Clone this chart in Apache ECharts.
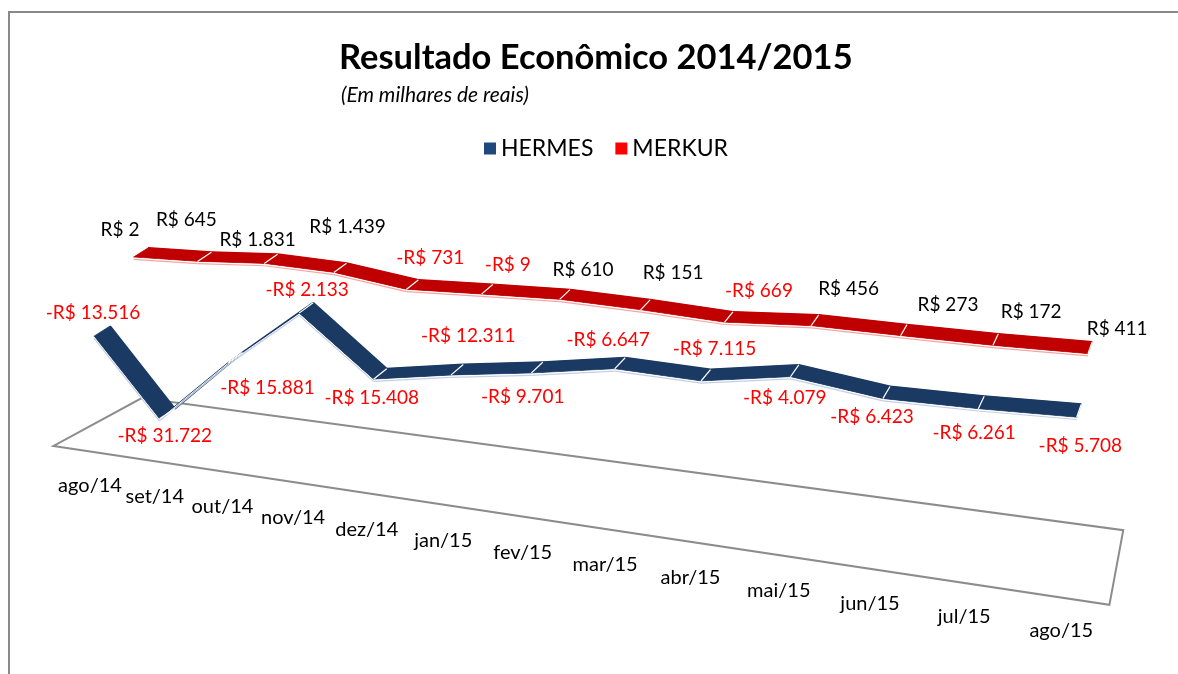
<!DOCTYPE html>
<html>
<head>
<meta charset="utf-8">
<script src="https://cdn.jsdelivr.net/npm/echarts@6/dist/echarts.min.js"></script>
<style>
html,body{margin:0;padding:0;background:#ffffff;}
#chart{width:1178px;height:674px;}
</style>
</head>
<body>
<div id="chart"></div>
<script>
// ---------- data ----------
const categories = ['ago/14','set/14','out/14','nov/14','dez/14','jan/15','fev/15','mar/15','abr/15','mai/15','jun/15','jul/15','ago/15'];
const hermes = [-13516,-31722,-15881,-2133,-15408,-12311,-9701,-6647,-7115,-4079,-6423,-6261,-5708];
const merkur = [2,645,1831,1439,-731,-9,610,151,-669,456,273,172,411];
const seriesNames = ['HERMES','MERKUR'];

// label nudges (relative to each point, in px)
const hermesLabelOffset = [[-17,-13],[-10,27],[25,35],[-6,-13],[-15,29],[5,-29],[-20,35],[-17,-18],[4,-21],[-14,33],[-18,30],[-10,37],[-1,42]];
const merkurLabelOffset = [[-28,-18],[-25,-32],[-20,-14],[1,-36],[12,-22],[15,-20],[13,-20],[23,-27],[26,-21],[30,-26],[41,-20],[33,-22],[25,-13]];

const FONT = 'Lato, "Open Sans", "Noto Sans", sans-serif';
const FLOOR_VALUE = -38000;

function fmt(v){
  const s = Math.abs(v).toString().replace(/\B(?=(\d{3})+(?!\d))/g, '.');
  return (v < 0 ? '-' : '') + 'R$ ' + s;
}

// perspective warp of the flat cartesian coordinates (3D-look)
function makeProj(api){
  const o = api.coord([0, 0]);
  const step = api.coord([1, 0])[0] - o[0];
  const proj = function(px, py, z){
    const t = (px - o[0]) / step, dv = py - o[1];
    return [
      o[0] + 63.3 * t + 1.47 * t * t + z * (38 - 1.3 * t - 0.08 * t * t),
      o[1] + 6.8 * t + 0.15 * t * t + z * (-24 - 0.05 * t * t) + dv * (1 + 0.0225 * t)
    ];
  };
  proj.origin = o; proj.step = step;
  return proj;
}

function ribbonRenderer(values, zRow, depth, fill, edge, labelOffsets){
  return function(params, api){
    const i = params.dataIndex;
    const proj = makeProj(api);
    const pt = function(k, z){ const c = api.coord([k, values[k]]); return proj(c[0], c[1], z); };
    const children = [];
    const a = pt(i, zRow), af = pt(i, zRow - depth);
    if (i < values.length - 1){
      const b = pt(i + 1, zRow), bf = pt(i + 1, zRow - depth);
      children.push({type:'polygon', shape:{points:[a, b, bf, af]},
        style:{fill: fill, stroke: fill, lineWidth: 0.8}});
      children.push({type:'polyline', shape:{points:[a, b]},
        style:{stroke: fill, lineWidth: 2, fill: null}});
      children.push({type:'polyline', shape:{points:[[af[0], af[1] + 1], [bf[0], bf[1] + 1]]},
        style:{stroke: '#ffffff', lineWidth: 1, fill: null}});
      children.push({type:'polyline', shape:{points:[[af[0], af[1] + 2.2], [bf[0], bf[1] + 2.2]]},
        style:{stroke: edge, lineWidth: 1.2, fill: null}});
    }
    if (i > 0){
      children.push({type:'polyline', z2: 10, shape:{points:[a, af]},
        style:{stroke: '#ffffff', lineWidth: 1.2, fill: null}});
    }
    const v = api.value(1);
    const off = labelOffsets[i];
    children.push({type:'text', z2: 50, x: a[0] + off[0], y: a[1] + off[1],
      style:{text: fmt(v), fill: v < 0 ? '#ff0000' : '#000000', font: '19px ' + FONT,
        align:'center', verticalAlign:'middle', textAlign:'center', textVerticalAlign:'middle'}});
    return {type:'group', children: children};
  };
}

function floorRenderer(params, api){
  const i = params.dataIndex;
  const proj = makeProj(api);
  const o = proj.origin, step = proj.step;
  const fy = api.coord([0, FLOOR_VALUE])[1];
  const children = [];
  if (i === 0){
    const corners = [[-0.27,-1.03],[12.38,-0.99],[12.29,1.335],[-0.12,1.03]];
    const pts = corners.map(function(c){ return proj(o[0] + c[0] * step, fy, c[1]); });
    children.push({type:'polygon', shape:{points: pts},
      style:{fill:'#ffffff', stroke:'#8c8c8c', lineWidth:2}});
  }
  const c = api.coord([i, FLOOR_VALUE]);
  const p = proj(c[0], c[1], 0);
  children.push({type:'text', x: p[0] - 20, y: p[1] + 62,
    style:{text: categories[i], fill:'#000000', font:'20px ' + FONT,
      align:'center', verticalAlign:'middle', textAlign:'center', textVerticalAlign:'middle'}});
  return {type:'group', children: children};
}

const chart = echarts.init(document.getElementById('chart'));
chart.setOption({
  animation: false,
  backgroundColor: '#ffffff',
  title: [
    {text: 'Resultado Econômico 2014/2015', left: 334, top: 35,
     textStyle: {fontSize: 34.5, fontWeight: 'bold', color: '#000000', fontFamily: FONT}},
    {text: '(Em milhares de reais)', left: 336, top: 80,
     textStyle: {fontSize: 21, fontStyle: 'italic', fontWeight: 'normal', color: '#000000', fontFamily: FONT}}
  ],
  legend: {
    data: seriesNames, left: 479, top: 132, icon: 'rect', itemWidth: 12, itemHeight: 12, itemGap: 22,
    textStyle: {fontSize: 23, color: '#000000', fontFamily: FONT}
  },
  graphic: [{type:'rect', z: -10, shape:{x: 9, y: 12, width: 1200, height: 700},
    style:{fill: null, stroke: '#898989', lineWidth: 2}}],
  grid: {left: 110, width: 960, top: 252, height: 180},
  xAxis: {type: 'category', data: categories, boundaryGap: false, show: false},
  yAxis: {type: 'value', min: -40000, max: 5000, show: false},
  series: [
    {type: 'custom', name: 'floor', z: 1, silent: true,
     data: categories.map(function(c, i){ return [i, FLOOR_VALUE]; }),
     renderItem: floorRenderer},
    {type: 'custom', name: seriesNames[1], z: 2, itemStyle: {color: '#ff0000'},
     data: merkur.map(function(v, i){ return [i, v]; }),
     renderItem: ribbonRenderer(merkur, 1, 0.38, '#c00000', '#f4a6a6', merkurLabelOffset)},
    {type: 'custom', name: seriesNames[0], z: 3, itemStyle: {color: '#1f497d'},
     data: hermes.map(function(v, i){ return [i, v]; }),
     renderItem: ribbonRenderer(hermes, 0, 0.42, '#1b3a63', '#c3d0e4', hermesLabelOffset)}
  ]
});
</script>
</body>
</html>
